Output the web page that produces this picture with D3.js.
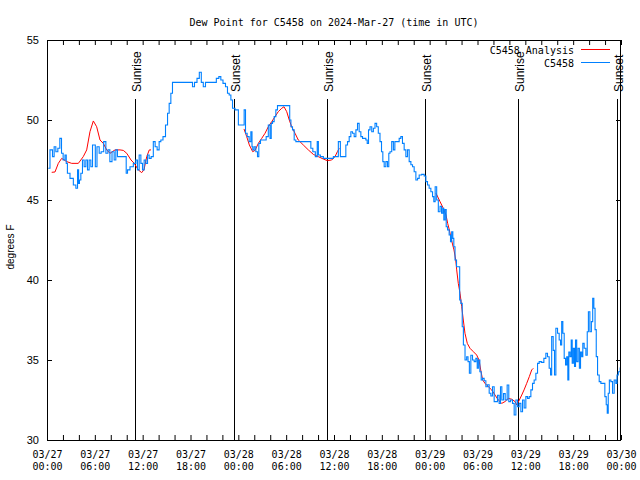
<!DOCTYPE html>
<html><head><meta charset="utf-8">
<script src="https://cdn.jsdelivr.net/npm/d3@7/dist/d3.min.js"></script>
<style>body{margin:0;background:#fff}svg{display:block}</style>
</head><body><svg id="c" width="640" height="480"></svg>
<script>
// hours since 2024-03-27 00:00 UTC
const blueHours = [0.16,0.59,0.79,1.0,1.22,1.5,1.72,1.92,2.13,2.38,2.45,2.67,3.1,3.51,3.73,3.93,4.0,4.14,4.35,4.55,4.77,4.98,5.18,5.39,5.61,5.81,6.02,6.1,6.44,6.65,6.94,7.28,7.49,7.78,7.99,8.32,8.53,8.74,8.94,9.57,9.87,10.0,10.2,10.62,11.04,11.25,11.45,11.67,11.88,12.08,12.29,12.51,12.71,12.92,13.21,13.46,13.67,13.96,14.17,14.39,14.71,15.02,15.22,15.43,15.64,15.84,16.06,18.15,18.35,18.65,18.98,19.23,19.48,19.73,20.03,21.07,21.41,21.7,21.91,22.24,22.54,22.74,22.96,23.17,23.37,23.8,24.21,24.62,24.84,24.96,25.25,25.46,25.68,25.75,25.88,26.09,26.3,26.51,26.63,26.93,27.35,27.63,27.89,28.06,28.19,28.39,28.6,28.81,29.01,30.27,30.39,30.5,30.69,30.9,31.11,31.32,31.74,32.58,32.99,33.2,33.49,33.83,33.96,34.12,34.46,34.87,35.5,36.34,36.75,36.85,37.38,37.59,37.8,38.01,38.22,38.42,38.64,38.85,39.05,39.26,39.48,39.68,39.89,40.1,40.23,40.43,40.61,40.86,41.02,41.27,41.43,41.68,41.86,42.06,42.19,42.4,42.61,42.81,42.94,43.11,43.37,43.53,43.74,44.07,44.28,44.49,44.69,44.91,45.12,45.32,45.54,45.75,45.95,46.16,46.38,46.58,46.79,47.2,47.42,47.63,47.83,48.04,48.26,48.46,48.58,48.8,48.96,49.21,49.39,49.59,49.71,49.84,50.01,50.14,50.34,50.55,50.68,50.84,50.97,51.09,51.27,51.47,51.72,51.81,52.02,52.15,52.31,52.56,52.72,52.9,53.06,53.27,53.48,53.69,53.9,54.03,54.19,54.4,54.53,54.73,54.94,55.16,55.36,55.57,55.78,55.98,56.2,56.41,56.61,56.82,56.95,57.16,57.37,57.58,57.86,57.99,58.29,58.49,58.71,58.92,59.12,59.33,59.55,59.75,59.96,60.17,60.38,60.59,60.8,61.0,61.21,61.43,61.63,61.84,62.18,62.47,62.68,62.88,63.1,63.22,63.39,63.6,63.72,63.94,64.14,64.35,64.48,64.64,64.77,64.98,65.11,65.27,65.39,65.52,65.69,65.82,65.94,66.11,66.23,66.36,66.52,66.7,66.86,66.99,67.15,67.27,67.49,67.7,67.83,67.99,68.2,68.37,68.53,68.66,68.83,68.96,69.16,69.37,69.58,69.87,70.08,70.21,70.34,70.46,70.62,70.84,71.04,71.25,71.46,71.54,71.79,72.0];
const blueValues = [46.98,48.13,47.71,48.33,48.02,48.23,48.85,47.92,47.5,47.81,47.29,46.67,46.35,45.94,45.73,46.88,46.04,46.25,46.67,47.5,47.08,47.5,46.88,47.5,47.08,48.44,48.44,47.08,48.33,47.92,48.02,48.65,47.92,48.13,47.4,48.02,47.5,48.13,47.71,47.71,47.71,46.67,46.88,47.08,47.29,47.5,46.88,47.81,47.29,46.88,47.5,47.29,47.81,47.6,47.71,48.65,48.33,48.13,48.65,48.75,48.96,49.69,50.42,51.04,51.67,52.35,52.35,52.35,52.08,52.35,52.6,52.98,52.35,52.08,52.35,52.35,52.6,52.71,52.5,52.29,52.08,51.67,51.56,51.25,50.73,50.63,49.69,49.69,50.63,49.17,48.96,48.65,49.27,48.33,48.13,48.33,48.02,47.71,48.54,48.75,48.75,48.96,49.69,48.85,49.79,49.9,50.21,50.63,50.9,50.9,50.9,50.0,49.58,49.38,48.75,48.65,48.65,48.65,48.65,48.23,48.02,47.71,48.65,47.81,47.71,47.6,47.6,47.71,48.65,47.71,47.71,48.44,48.65,48.96,49.27,49.17,48.96,49.38,49.79,49.27,48.96,48.85,48.85,48.75,48.54,49.38,49.58,49.27,49.48,49.79,49.58,49.17,48.65,48.02,47.4,47.08,47.4,47.08,47.92,48.02,48.65,48.13,48.65,48.65,48.85,48.96,48.54,48.13,47.71,48.13,47.4,47.2,47.08,46.77,46.25,46.35,46.56,46.6,46.5,46.15,45.94,45.73,45.52,45.21,44.9,45.83,45.0,44.27,44.6,44.17,44.48,43.75,44.4,43.33,43.13,42.81,42.4,43.02,42.6,42.08,41.25,40.83,40.83,38.75,38.54,37.08,35.94,35.0,35.2,34.9,34.17,35.3,35.0,34.9,35.1,34.48,35.0,34.27,33.75,33.85,33.7,33.33,33.45,32.92,32.75,33.33,32.4,32.4,32.8,32.29,33.33,32.5,32.9,32.5,33.44,32.4,32.5,32.29,31.56,32.5,32.08,32.29,31.77,32.5,32.0,32.71,32.6,32.71,33.13,33.54,33.75,34.17,34.79,34.9,34.85,35.1,35.42,35.2,34.48,34.06,36.46,35.6,34.06,36.98,36.67,36.25,35.94,37.4,36.67,35.1,34.69,35.2,33.75,35.5,35.2,36.25,34.8,35.73,34.6,36.25,34.9,35.73,34.48,35.5,35.2,36.04,35.73,35.3,36.77,38.02,36.77,37.4,38.85,38.23,36.9,35.21,34.06,33.65,33.54,33.54,32.71,32.2,31.67,32.92,33.75,33.65,32.92,33.75,33.54,34.06,34.27,34.5];

// analysis series; null marks a gap
const redHours = [0.59,1.0,1.42,1.84,2.47,3.1,3.93,4.55,4.98,5.39,5.81,6.23,6.65,7.06,7.49,7.9,8.53,9.16,9.57,10.0,10.54,10.95,11.45,11.88,12.17,12.51,12.83,13.05,
  13.5,
  24.71,25.05,25.38,25.8,26.09,26.51,26.93,27.35,27.76,28.19,28.6,29.01,29.44,29.73,30.07,30.39,30.69,31.11,31.52,32.15,32.78,33.41,34.03,34.66,35.16,35.71,36.13,36.42,36.67,
  37.0,
  48.8,49.3,49.71,50.05,50.26,50.47,50.64,50.89,51.05,51.27,51.39,51.59,51.81,52.02,52.22,52.43,52.72,53.06,53.48,53.9,54.19,54.4,54.65,54.94,55.36,55.78,56.2,56.61,57.04,57.45,57.86,58.29,58.71,58.92,59.25,59.55,59.84,60.17,60.5,60.8,61.0];
const redValues = [46.73,46.75,47.29,47.6,47.4,47.29,47.29,47.71,48.13,49.27,49.94,49.58,48.75,48.54,48.13,47.92,48.13,48.13,48.1,47.92,47.5,47.29,46.88,46.71,46.9,47.71,48.13,48.13,
  null,
  49.44,48.96,48.44,48.02,48.1,48.54,48.85,49.17,49.58,49.9,50.21,50.52,50.73,50.83,50.52,50.0,49.58,49.17,48.75,48.44,48.13,47.85,47.71,47.56,47.46,47.5,47.71,48.02,48.23,
  null,
  45.42,44.9,44.48,44.06,43.54,43.13,42.71,42.19,41.88,41.25,40.63,39.79,39.17,38.33,37.5,36.67,36.04,35.73,35.52,35.31,35.0,34.38,33.75,33.54,33.33,33.13,32.81,32.5,32.29,32.4,32.6,32.55,32.4,32.19,32.5,32.81,33.13,33.54,33.96,34.38,34.48];

const sunEventHours = [11.04, 23.4, 35.15, 47.45, 59.12, 71.55];
const sunEventLabels = ["Sunrise","Sunset","Sunrise","Sunset","Sunrise","Sunset"];
const yTickValues = [30,35,40,45,50,55];
const seriesNames = ["C5458 Analysis","C5458"];
const seriesColors = ["#ff0000","#0080ff"];
const titleText = "Dew Point for C5458 on 2024-Mar-27 (time in UTC)";
const yLabelText = "degrees F";

const T0 = Date.UTC(2024,2,27);
const toDate = h => new Date(T0 + h*3600e3);

const L=47,R=621,T=40,B=440;
const svg = d3.select("#c");
const x = d3.scaleUtc().domain([toDate(0), toDate(72)]).range([L,R]);
const y = d3.scaleLinear().domain([30,55]).range([B,T]);
const mono = "'DejaVu Sans Mono', monospace";
const sans = "'Liberation Sans', Arial, sans-serif";

// sun event lines
const sun = svg.append("g");
sunEventHours.forEach((h,i)=>{
  const xx = Math.round(x(toDate(h)))+0.5;
  sun.append("line").attr("x1",xx).attr("x2",xx).attr("y1",99).attr("y2",B)
    .attr("stroke","#000").attr("stroke-width",1);
  sun.append("text").attr("transform",`translate(${xx+5},92) rotate(-90)`)
    .attr("font-family",sans).attr("font-size",12).attr("fill","#000")
    .text(sunEventLabels[i]);
});

// data
const redData = redHours.map((h,i)=>({t:toDate(h), v:redValues[i]}));
const blueData = blueHours.map((h,i)=>({t:toDate(h), v:blueValues[i]}));
const line = d3.line().defined(d=>d.v!==null).x(d=>x(d.t)).y(d=>y(d.v));
const stepLine = d3.line().curve(d3.curveStep).x(d=>x(d.t)).y(d=>y(d.v));
svg.append("path").datum(redData).attr("d",line).attr("fill","none")
  .attr("stroke",seriesColors[0]).attr("stroke-width",1);
svg.append("path").datum(blueData).attr("d",stepLine).attr("fill","none")
  .attr("stroke",seriesColors[1]).attr("stroke-width",1.1);

// axes
function clean(g){ g.select(".domain").remove(); g.selectAll("line").attr("stroke","#000"); }
svg.append("g").attr("transform",`translate(0,${B})`)
  .call(d3.axisBottom(x).ticks(d3.utcHour.every(2)).tickSize(-5).tickFormat("")).call(clean);
svg.append("g").attr("transform",`translate(0,${T})`)
  .call(d3.axisTop(x).ticks(d3.utcHour.every(2)).tickSize(-5).tickFormat("")).call(clean);
const xl = svg.append("g").attr("transform",`translate(0,${B})`)
  .call(d3.axisBottom(x).ticks(d3.utcHour.every(6)).tickSize(0).tickPadding(11)
    .tickFormat(d3.utcFormat("%m/%d"))).call(clean);
xl.selectAll("text").attr("font-family",mono).attr("font-size",10).attr("fill","#000")
  .each(function(d){
    d3.select(this).append("tspan").attr("x",0).attr("dy","1.2em").text(d3.utcFormat("%H:%M")(d));
  });
const yl = svg.append("g").attr("transform",`translate(${L},0)`)
  .call(d3.axisLeft(y).tickValues(yTickValues).tickSize(-5).tickPadding(8)).call(clean);
yl.selectAll("text").attr("font-family",sans).attr("font-size",11).attr("fill","#000");
svg.append("g").attr("transform",`translate(${R},0)`)
  .call(d3.axisRight(y).tickValues(yTickValues).tickSize(-5).tickFormat("")).call(clean);

// frame
svg.append("rect").attr("x",L+0.5).attr("y",T+0.5).attr("width",R-L-1).attr("height",B-T)
  .attr("fill","none").attr("stroke","#000");

// title + y label
svg.append("text").attr("x",(L+R)/2).attr("y",26).attr("text-anchor","middle")
  .attr("font-family",mono).attr("font-size",10).text(titleText);
svg.append("text").attr("transform","translate(14,247) rotate(-90)").attr("text-anchor","middle")
  .attr("font-family",sans).attr("font-size",10).text(yLabelText);

// legend
seriesNames.forEach((n,i)=>{
  const yy = 50 + i*13;
  svg.append("text").attr("x",574).attr("y",yy+3.5).attr("text-anchor","end")
    .attr("font-family",mono).attr("font-size",10).text(n);
  svg.append("line").attr("x1",581).attr("x2",610).attr("y1",yy-0.5).attr("y2",yy-0.5)
    .attr("stroke",seriesColors[i]).attr("stroke-width",1);
});
</script></body></html>
